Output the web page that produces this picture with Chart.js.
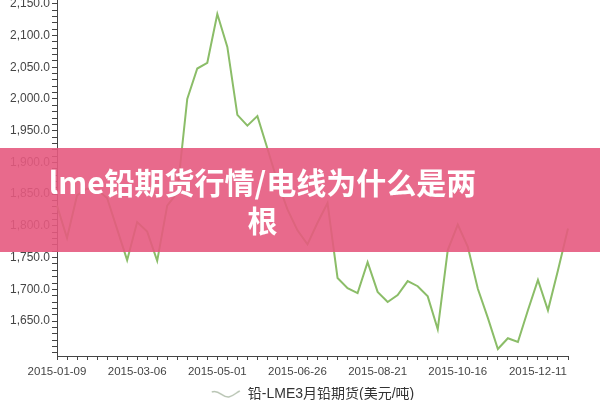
<!DOCTYPE html>
<html>
<head>
<meta charset="utf-8">
<script src="https://cdn.jsdelivr.net/npm/chart.js@4.4.1/dist/chart.umd.min.js"></script>
<style>
  html, body { margin: 0; padding: 0; background: #fff; }
  #wrap { position: relative; width: 600px; height: 400px; }
  #banner {
    position: absolute; left: 0; top: 148px; width: 600px; height: 104px;
    background: rgba(230, 90, 128, 0.9);
  }
  #banner div {
    position: absolute; left: 40px; width: 445px; top: 14px;
    text-align: center; color: #fff;
    font: bold 30px "Noto Sans CJK SC", "Noto Sans", sans-serif;
    line-height: 38px;
  }
</style>
</head>
<body>
<div id="wrap">
  <canvas id="chart-lead" width="600" height="400"></canvas>
  <div id="banner"><div>lme铅期货行情/电线为什么是两<br>根</div></div>
</div>
<script>
var weeks = [
  '2015-01-09', '2015-01-16', '2015-01-23', '2015-01-30', '2015-02-06', '2015-02-13', '2015-02-20', '2015-02-27',
  '2015-03-06', '2015-03-13', '2015-03-20', '2015-03-27', '2015-04-03', '2015-04-10', '2015-04-17', '2015-04-24',
  '2015-05-01', '2015-05-08', '2015-05-15', '2015-05-22', '2015-05-29', '2015-06-05', '2015-06-12', '2015-06-19',
  '2015-06-26', '2015-07-03', '2015-07-10', '2015-07-17', '2015-07-24', '2015-07-31', '2015-08-07', '2015-08-14',
  '2015-08-21', '2015-08-28', '2015-09-04', '2015-09-11', '2015-09-18', '2015-09-25', '2015-10-02', '2015-10-09',
  '2015-10-16', '2015-10-23', '2015-10-30', '2015-11-06', '2015-11-13', '2015-11-20', '2015-11-27', '2015-12-04',
  '2015-12-11', '2015-12-18', '2015-12-25', '2016-01-01'
];
var leadPrice = [
  1832, 1781, 1848, 1859, 1857, 1844, 1795, 1746,
  1806, 1791, 1745, 1832, 1852, 2000, 2048, 2057,
  2134, 2082, 1975, 1958, 1973, 1922, 1870, 1826,
  1793, 1771, 1805, 1836, 1718, 1702, 1694, 1743,
  1696, 1680, 1691, 1713, 1705, 1689, 1637, 1762,
  1802, 1767, 1701, 1655, 1606, 1623, 1617, 1667,
  1715, 1667, 1730, 1796
];
var xTickLabels = ['2015-01-09', '2015-03-06', '2015-05-01', '2015-06-26', '2015-08-21', '2015-10-16', '2015-12-11'];
var yTickLabels = [1650, 1700, 1750, 1800, 1850, 1900, 1950, 2000, 2050, 2100, 2150];
var seriesName = '铅-LME3月铅期货(美元/吨)';

(function () {
  'use strict';

  var txt = '#444';
  var axis = '#444';
  var lineColor = '#8bbd68';

  function waveIcon() {
    var c = document.createElement('canvas');
    c.width = 30;
    c.height = 12;
    var g = c.getContext('2d');
    g.strokeStyle = '#b9c5b4';
    g.lineWidth = 1.5;
    g.beginPath();
    g.moveTo(1, 4);
    g.bezierCurveTo(8, 1, 12, 10, 18, 9);
    g.bezierCurveTo(23, 8, 26, 4, 29, 3);
    g.stroke();
    return c;
  }

  var icon = waveIcon();

  new Chart(document.getElementById('chart-lead'), {
    type: 'line',
    data: {
      labels: weeks,
      datasets: [
        {
          label: seriesName,
          data: leadPrice,
          borderColor: lineColor,
          borderWidth: 2,
          pointRadius: 0,
          tension: 0,
          fill: false,
        },
      ],
    },
    options: {
      responsive: false,
      animation: false,
      layout: { padding: { top: 0, right: 32, left: 0, bottom: -11 } },
      plugins: {
        tooltip: { enabled: false },
        legend: {
          position: 'bottom',
          fullSize: false,
          labels: {
            color: '#333',
            font: { family: '"Liberation Sans", "Noto Sans CJK SC", sans-serif', size: 14 },
            usePointStyle: true,
            pointStyleWidth: 30,
            padding: 0,
            generateLabels: function () {
              return [{ text: seriesName, pointStyle: icon, fontColor: '#333', lineWidth: 0, strokeStyle: 'transparent', datasetIndex: 0 }];
            },
          },
        },
      },
      scales: {
        x: {
          offset: false,
          border: { display: true, color: axis, width: 1 },
          grid: { display: true, drawOnChartArea: false, drawTicks: true, tickLength: 4, tickColor: axis },
          ticks: {
            autoSkip: false,
            maxRotation: 0,
            padding: 5,
            color: txt,
            font: { family: '"Liberation Sans", Arial, sans-serif', size: 11.5 },
            callback: function (v, i) {
              var d = weeks[i];
              return xTickLabels.indexOf(d) >= 0 ? d : '';
            },
          },
          afterFit: function (s) {
            s.height = 31;
            s.paddingLeft = 0;
            s.paddingRight = 0;
          },
        },
        y: {
          min: 1595,
          max: 2156,
          border: { display: true, color: axis, width: 1 },
          grid: { display: true, drawOnChartArea: false, drawTicks: true, tickLength: 5, tickColor: axis },
          afterBuildTicks: function (s) {
            var t = [];
            for (var v = 1600; v <= 2150; v += 10) t.push({ value: v });
            s.ticks = t;
          },
          ticks: {
            autoSkip: false,
            padding: 2,
            color: txt,
            font: { family: '"Liberation Sans", Arial, sans-serif', size: 12 },
            callback: function (v) {
              if (yTickLabels.indexOf(v) < 0) return '';
              return v.toLocaleString('en-US', { minimumFractionDigits: 1, maximumFractionDigits: 1 });
            },
          },
          afterFit: function (s) {
            s.width = 57;
            s.paddingTop = 0;
            s.paddingBottom = 0;
          },
        },
      },
    },
  });
})();
</script>
</body>
</html>
